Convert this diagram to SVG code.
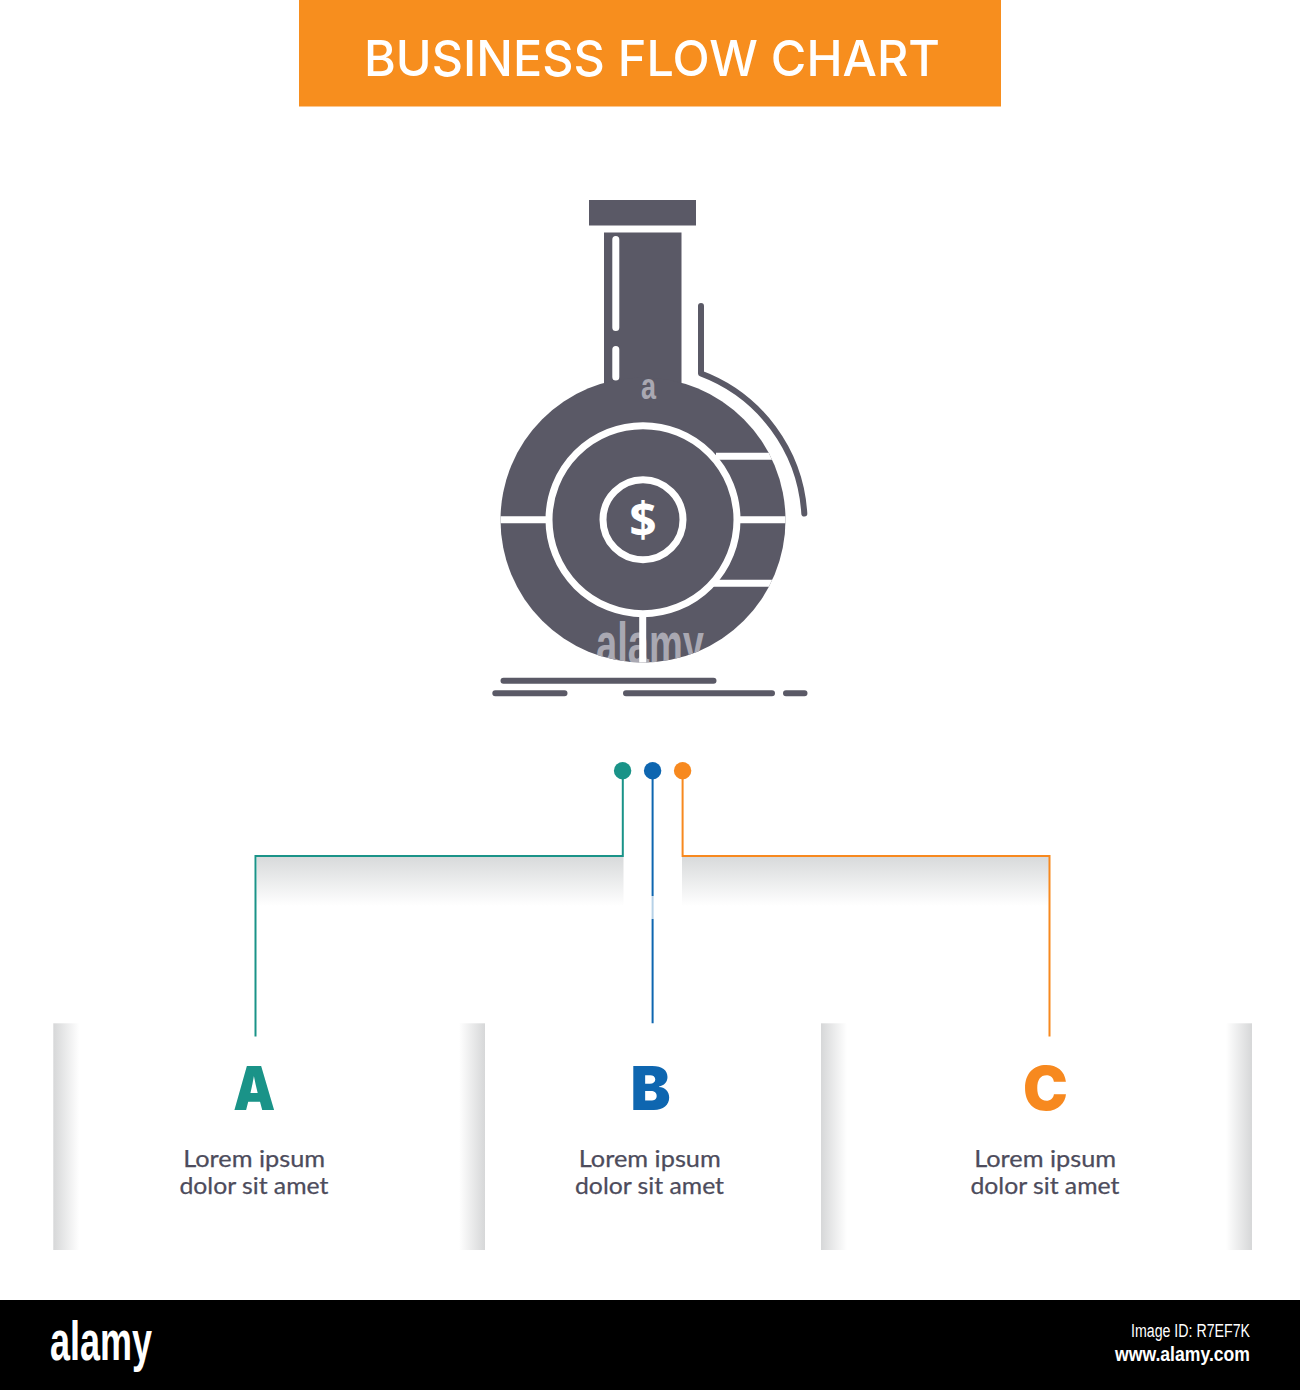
<svg xmlns="http://www.w3.org/2000/svg" width="1300" height="1390" viewBox="0 0 1300 1390">
<style>
.ink{fill:#5a5966}
.cut{fill:none;stroke:#fff;stroke-width:7}
.cutr{fill:none;stroke:#fff;stroke-width:7;stroke-linecap:round}
.base{fill:none;stroke:#5a5966;stroke-width:6;stroke-linecap:round}
.conn{fill:none;stroke-width:2}
.dot{stroke:none}
.letter{font-family:Inter,"Liberation Sans",sans-serif;font-weight:900;font-size:60px;text-anchor:middle}
.body{font-family:Lato,"Open Sans",sans-serif;font-size:23px;fill:#4d4c5c;stroke:#4d4c5c;stroke-width:.25;text-anchor:middle}
.foot{font-family:"Liberation Sans",sans-serif;fill:#fff}
.wm{font-family:"Liberation Sans",sans-serif;font-weight:700;fill:#a9a8b2}
</style>
<defs>
<linearGradient id="down" x1="0" y1="0" x2="0" y2="1"><stop offset="0" stop-color="#d8dadb"/><stop offset="1" stop-color="#fff"/></linearGradient>
<linearGradient id="fromLeft" x1="0" y1="0" x2="1" y2="0"><stop offset="0" stop-color="#d6d7d8"/><stop offset="1" stop-color="#fff"/></linearGradient>
<linearGradient id="fromRight" x1="1" y1="0" x2="0" y2="0"><stop offset="0" stop-color="#d6d7d8"/><stop offset="1" stop-color="#fff"/></linearGradient>
<clipPath id="bulb"><circle cx="643" cy="520" r="142.5"/></clipPath>
</defs>
<rect width="1300" height="1390" fill="#fff"/>

<g id="header">
<rect x="299" y="0" width="702" height="106.500" fill="#f78e1e"/>
<text x="364" y="76" font-family="Inter,'Open Sans',sans-serif" font-weight="500" font-size="50" fill="#fff" textLength="576" lengthAdjust="spacingAndGlyphs">BUSINESS FLOW CHART</text>
</g>

<g id="flask-icon">
<rect class="ink" x="589" y="200" width="107" height="25.500"/>
<rect class="ink" x="604" y="232.500" width="77.500" height="165"/>
<circle class="ink" cx="643" cy="520" r="142.500"/>
<g clip-path="url(#bulb)">
<text class="wm" x="596" y="664" font-size="60" textLength="108" lengthAdjust="spacingAndGlyphs">alamy</text>
</g>
<text class="wm" x="641" y="399" font-size="36" textLength="15" lengthAdjust="spacingAndGlyphs">a</text>
<path class="cutr" d="M615.800 239.500V327.500M615.800 349.500V377"/>
<g clip-path="url(#bulb)">
<path class="cut" d="M498 519.700H546M740 519.700H790M642.700 616V665M716 456.300H790M713 583.300H790"/>
</g>
<circle cx="643" cy="519.700" r="94" class="cut"/>
<circle cx="643" cy="519.700" r="40" class="cut"/>
<text x="643" y="537" font-family="'Open Sans','Liberation Sans',sans-serif" font-weight="700" font-size="48" fill="#fff" text-anchor="middle">$</text>
<path class="base" d="M701 306V373.500A160 160 0 0 1 804.300 513.500" stroke-linejoin="round"/>
<path class="base" d="M503.500 680.700H713.500M495.300 693.300H564.500M626 693.300H772M786 693.300H804.500"/>
</g>

<g id="shadows">
<rect x="257" y="857" width="366.500" height="49" fill="url(#down)"/>
<rect x="682" y="857" width="367" height="49" fill="url(#down)"/>
</g>

<g id="connectors">
<path class="conn" stroke="#1a9388" d="M622.800 770V856H255.500V1036.500"/>
<path class="conn" stroke="#0e66b0" d="M652.600 770V896M652.600 919V1023.300"/>
<path class="conn" stroke="#0e66b0" stroke-opacity=".3" d="M652.600 896V919"/>
<path class="conn" stroke="#f7891f" d="M682.600 770V856H1049.500V1036.500"/>
<circle class="dot" cx="622.600" cy="770.700" r="8.700" fill="#1a9388"/>
<circle class="dot" cx="652.600" cy="770.700" r="8.700" fill="#0e66b0"/>
<circle class="dot" cx="682.600" cy="770.700" r="8.700" fill="#f7891f"/>
</g>

<g id="node-a">
<rect x="53.300" y="1023.300" width="26" height="226.700" fill="url(#fromLeft)"/>
<rect x="459" y="1023.300" width="26" height="226.700" fill="url(#fromRight)"/>
<text class="letter" x="254.300" y="1110" fill="#1a9388" textLength="42" lengthAdjust="spacingAndGlyphs">A</text>
<text class="body" x="254.200" y="1167.300" textLength="142" lengthAdjust="spacingAndGlyphs">Lorem ipsum</text>
<text class="body" x="253.900" y="1194.300" textLength="149" lengthAdjust="spacingAndGlyphs">dolor sit amet</text>
</g>
<g id="node-b">
<text class="letter" x="650.500" y="1110" fill="#0e66b0">B</text>
<text class="body" x="649.800" y="1167.300" textLength="142" lengthAdjust="spacingAndGlyphs">Lorem ipsum</text>
<text class="body" x="649.500" y="1194.300" textLength="149" lengthAdjust="spacingAndGlyphs">dolor sit amet</text>
</g>
<g id="node-c">
<rect x="821" y="1023.300" width="26" height="226.700" fill="url(#fromLeft)"/>
<rect x="1226" y="1023.300" width="26" height="226.700" fill="url(#fromRight)"/>
<text class="letter" x="1045.500" y="1110" fill="#f7891f">C</text>
<text class="body" x="1045.200" y="1167.300" textLength="142" lengthAdjust="spacingAndGlyphs">Lorem ipsum</text>
<text class="body" x="1044.900" y="1194.300" textLength="149" lengthAdjust="spacingAndGlyphs">dolor sit amet</text>
</g>

<g id="footer">
<rect x="0" y="1300" width="1300" height="90" fill="#000"/>
<text class="foot" x="50" y="1360" font-size="56" font-weight="700" textLength="102" lengthAdjust="spacingAndGlyphs">alamy</text>
<text class="foot" x="1131" y="1337" font-size="18" textLength="119" lengthAdjust="spacingAndGlyphs">Image ID: R7EF7K</text>
<text class="foot" x="1115" y="1361" font-size="20" font-weight="700" textLength="135" lengthAdjust="spacingAndGlyphs">www.alamy.com</text>
</g>
</svg>
